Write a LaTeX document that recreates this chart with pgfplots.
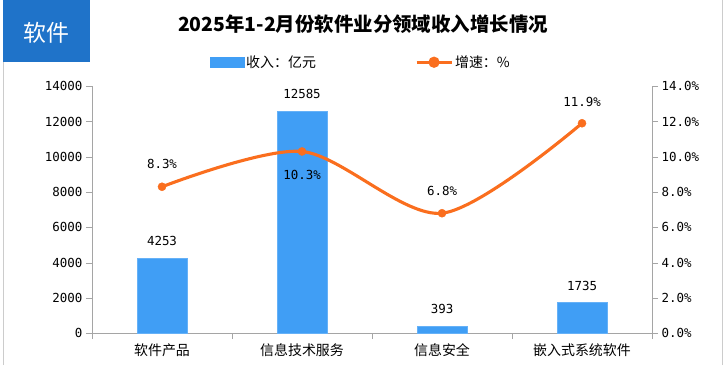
\documentclass[border=0pt]{standalone}
\usepackage{pgfplots}
\pgfplotsset{compat=1.18}
\usepackage{fontspec}
\setmainfont{Noto Sans CJK SC}
\newfontfamily\numfont{DejaVu Sans Mono}
\definecolor{barblue}{RGB}{64,158,245}
\definecolor{lineorange}{RGB}{250,110,30}
\definecolor{boxblue}{RGB}{31,115,201}
\definecolor{axgray}{RGB}{165,165,165}
\begin{document}
\begin{tikzpicture}[x=1bp,y=1bp]
\path (0,0) rectangle (726,365);
\draw[gray!40] (3,0) -- (3,303);
\draw[gray!40] (722,0) -- (722,365);
\fill[boxblue] (3,303) rectangle (90,365);
\node[white,font=\fontsize{23}{24}\selectfont] at (46,332) {软件};
\node[font=\fontsize{19.5}{20}\selectfont\bfseries] at (363,341) {2025年1-2月份软件业分领域收入增长情况};
\begin{axis}[
  at={(92bp,32bp)}, anchor=south west,
  width=560bp, height=247bp, scale only axis,
  xmin=-0.5, xmax=3.5, ymin=0, ymax=14000,
  axis x line*=bottom, axis y line*=left,
  axis line style={axgray},
  xtick={0,1,2,3},
  xticklabels={软件产品,信息技术服务,信息安全,嵌入式系统软件},
  major x tick style={draw=none},
  minor xtick={-0.5,0.5,1.5,2.5,3.5},
  minor x tick style={axgray},
  minor tick length=6bp,
  ytick={0,2000,...,14000},
  y tick style={axgray},
  major tick length=6bp,
  tick align=outside,
  scaled y ticks=false,
  y tick label style={/pgf/number format/.cd,1000 sep={},assume math mode=true},
  ticklabel style={font=\fontsize{12.5}{13}\numfont},
  x tick label style={font=\fontsize{14}{15}\selectfont, yshift=-1bp},
  every node near coord/.append style={font=\fontsize{12.5}{13}\numfont, anchor=center, yshift=17bp},
  nodes near coords={\pgfmathprintnumber[1000 sep={},assume math mode=true]{\pgfplotspointmeta}},
]
\addplot[ybar, bar width=50bp, fill=barblue, draw=barblue!80!white] coordinates {(0,4253) (1,12585) (2,393) (3,1735)};
\end{axis}
\begin{axis}[
  at={(92bp,32bp)}, anchor=south west,
  width=560bp, height=247bp, scale only axis,
  xmin=-0.5, xmax=3.5, ymin=0, ymax=14,
  axis x line=none, axis y line*=right,
  axis line style={axgray},
  ytick={0,2,...,14},
  y tick style={axgray},
  major tick length=6bp,
  tick align=outside,
  yticklabel={\pgfmathprintnumber[fixed,fixed zerofill,precision=1,assume math mode=true]{\tick}\%},
  ticklabel style={font=\fontsize{12.5}{13}\numfont},
  legend columns=2,
  legend style={at={(0.480,1.097)}, anchor=center, draw=none, fill=none,
    font=\fontsize{14}{15}\selectfont,
    /tikz/every even column/.append style={column sep=97bp}},
]
\addlegendimage{area legend, fill=barblue, draw=barblue!80!white,
  legend image code/.code={\fill[barblue] (0bp,-5bp) rectangle (34bp,5bp);}}
\addlegendentry{收入：亿元}
\addplot[lineorange, line width=3.1bp, smooth, mark=*, mark size=4bp,
  mark options={fill=lineorange, draw=lineorange, line width=0.5bp},
  legend image code/.code={\draw[lineorange, line width=3.1bp] (0bp,0bp) -- (35bp,0bp);
     \fill[lineorange] (17.5bp,0bp) circle (4bp);}]
  coordinates {(0,8.3) (1,10.3) (2,6.8) (3,11.9)};
\addlegendentry{增速：\%}
\node[font=\fontsize{12.5}{13}\numfont] at (axis cs:0,8.3) [yshift=23bp] {8.3\%};
\node[font=\fontsize{12.5}{13}\numfont] at (axis cs:1,10.3) [yshift=-23bp] {10.3\%};
\node[font=\fontsize{12.5}{13}\numfont] at (axis cs:2,6.8) [yshift=22bp] {6.8\%};
\node[font=\fontsize{12.5}{13}\numfont] at (axis cs:3,11.9) [yshift=21bp] {11.9\%};
\end{axis}
\end{tikzpicture}
\end{document}
